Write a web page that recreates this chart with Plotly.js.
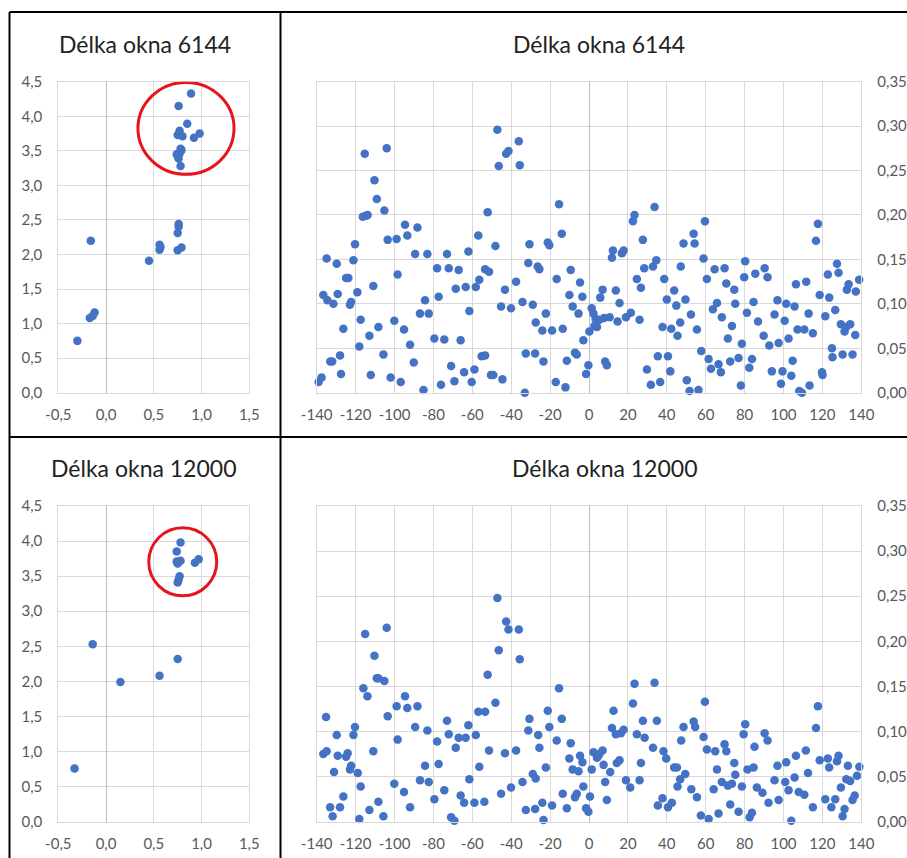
<!DOCTYPE html>
<html>
<head>
<meta charset="utf-8">
<script src="https://cdn.plot.ly/plotly-3.0.1.min.js"></script>
<style>html,body{margin:0;padding:0;background:#fff;}#chart{width:907px;height:858px;}</style>
</head>
<body>
<div id="chart"></div>
<script>
// ---- data ----
var titleTop = "Délka okna 6144";
var titleBottom = "Délka okna 12000";

var tlX = [-0.30,-0.16,-0.17,-0.12,-0.14,0.45,0.56,0.56,0.57,0.75,0.79,0.75,0.76,0.76,0.78,0.76,0.74,0.79,0.77,0.75,0.77,0.80,0.85,0.76,0.89,0.92,0.98,0.75,0.78];
var tlY = [0.75,2.20,1.08,1.16,1.11,1.91,2.14,2.07,2.11,2.06,2.10,2.31,2.44,2.40,3.28,3.39,3.45,3.51,3.46,3.73,3.79,3.71,3.89,4.15,4.33,3.69,3.75,3.42,3.53];

var blX = [-0.33,-0.14,0.15,0.56,0.75,0.78,0.74,0.74,0.78,0.75,0.77,0.76,0.75,0.93,0.97];
var blY = [0.76,2.53,1.99,2.08,2.32,3.98,3.85,3.71,3.72,3.68,3.50,3.45,3.41,3.69,3.74];

var trX = [-139,-137.5,-134.9,-136.6,-134.5,-131.4,-129.7,-129.2,-133,-132,-128,-127.5,-126.3,-124.9,-123.7,-122.9,-122.3,-121.1,-120.3,-119.1,-118.1,-117.4,-116.3,-114.8,-113.8,-115.3,-112.9,-112.2,-110.9,-110.3,-109.1,-108.3,-105.7,-105.2,-104,-103.5,-98.9,-102,-100.1,-98.4,-96.8,-95.1,-94.6,-93.4,-92,-90.1,-89.4,-88.2,-86.9,-85.1,-84.3,-83.1,-82.4,-79.5,-78.1,-77.3,-76.1,-74.4,-73,-72.1,-70.9,-69.2,-68.5,-67,-66,-64.2,-63.4,-62,-61.5,-60.3,-58.9,-58.2,-56.9,-56.4,-55.2,-53.4,-53.4,-51.4,-52.1,-50.4,-49.2,-48.1,-47.1,-46.4,-45.2,-44.5,-43.2,-42.6,-41.4,-40.1,-37.5,-36.1,-35.6,-34.2,-33,-32.5,-31.2,-30.6,-28.9,-27.7,-27.4,-26.4,-25.5,-24,-23.4,-22.2,-21.2,-20.4,-19,-17.1,-16.6,-15.4,-14,-13.5,-12.1,-11.4,-10.1,-9.4,-8.4,-7.2,-6.3,-5.4,-4.6,-3.4,-2.9,-1.5,-0.3,0.2,1.4,2.3,2.8,3.4,4.1,5.8,7,5.4,7.8,10.6,8.3,9.2,11.8,12.3,13.8,14.7,15.7,16.9,17.8,19,21.5,22.6,23.4,24.6,26,26.7,27.7,28.4,29.8,31.8,32.9,33.7,34.6,35.4,36.6,37.8,38.7,40,40.6,41.8,42.3,43.8,44.9,45.5,46.9,47.2,48.6,49.6,50.3,51.7,52.4,53.8,54.3,55.5,56.3,57.7,58.9,59.6,60.6,61.5,62.7,63.7,64.6,65.8,66.6,67.8,68.3,69.7,70.6,71.4,72.6,73.5,74.7,75.2,76.9,78.1,78.6,79.8,80.3,81.2,82.4,83.8,84.6,85.5,86.9,89.8,90.3,91.8,92.7,94,95.4,96.9,97.5,98.7,99.5,100.6,101.4,102.6,104,104.7,105.7,106.4,107.2,108.1,109.5,110.7,111.7,112.9,113.4,115.1,116.7,117.7,118.6,119.8,120.1,121.5,122.8,123.5,124.9,125.2,126.6,127.5,128.3,129.5,130.4,131.4,132.3,132.6,133.5,134.3,135.5,136.9,137.2,138.9];
var trY = [0.012,0.017,0.151,0.110,0.104,0.100,0.145,0.111,0.035,0.035,0.042,0.021,0.072,0.129,0.129,0.099,0.102,0.149,0.167,0.113,0.052,0.082,0.198,0.199,0.200,0.269,0.064,0.020,0.120,0.239,0.218,0.074,0.043,0.205,0.275,0.172,0.173,0.017,0.081,0.133,0.012,0.071,0.189,0.177,0.054,0.034,0.156,0.186,0.089,0.003,0.104,0.156,0.089,0.061,0.140,0.108,0.009,0.060,0.156,0.140,0.030,0.013,0.117,0.138,0.059,0.023,0.119,0.159,0.092,0.012,0.026,0.119,0.177,0.127,0.041,0.042,0.139,0.136,0.203,0.020,0.020,0.165,0.296,0.255,0.097,0.015,0.116,0.269,0.272,0.095,0.125,0.283,0.256,0.102,0.000,0.044,0.146,0.167,0.099,0.044,0.079,0.142,0.139,0.070,0.035,0.089,0.169,0.166,0.070,0.012,0.128,0.212,0.179,0.072,0.006,0.036,0.110,0.138,0.097,0.045,0.043,0.089,0.124,0.108,0.059,0.021,0.031,0.069,0.095,0.089,0.075,0.083,0.074,0.107,0.116,0.082,0.084,0.085,0.035,0.031,0.152,0.160,0.115,0.080,0.101,0.157,0.160,0.085,0.090,0.193,0.200,0.128,0.082,0.118,0.172,0.140,0.026,0.009,0.142,0.209,0.149,0.041,0.012,0.074,0.128,0.105,0.041,0.024,0.072,0.115,0.098,0.064,0.079,0.142,0.168,0.105,0.014,0.002,0.088,0.179,0.168,0.071,0.003,0.047,0.151,0.193,0.128,0.038,0.027,0.094,0.139,0.101,0.032,0.023,0.085,0.140,0.123,0.061,0.035,0.075,0.116,0.100,0.039,0.008,0.055,0.130,0.148,0.090,0.028,0.038,0.102,0.134,0.080,0.064,0.140,0.130,0.053,0.024,0.088,0.104,0.056,0.010,0.024,0.081,0.100,0.061,0.019,0.036,0.097,0.122,0.071,0.002,0.000,0.071,0.125,0.089,0.008,0.067,0.171,0.190,0.110,0.023,0.020,0.086,0.133,0.107,0.050,0.040,0.093,0.145,0.135,0.077,0.043,0.069,0.074,0.116,0.122,0.077,0.043,0.065,0.114,0.127];

var brX = [-136.6,-134.9,-135.2,-133.1,-131.8,-131.1,-129.7,-129.2,-128,-126.3,-124.9,-124.1,-122.9,-122.3,-121.1,-120.3,-118.9,-118.1,-117.4,-116,-115.1,-113.9,-112.9,-110.9,-110.3,-109.1,-108.3,-108.3,-105.7,-105.2,-104,-103.5,-100.1,-98.9,-98.4,-95.1,-94.6,-93.4,-92,-89.4,-88.2,-86.9,-84.3,-83.1,-82.4,-79.5,-78.1,-77.3,-74.4,-73,-72.1,-70.9,-69.2,-68.5,-67,-63.4,-66,-64.2,-62,-61.5,-58.9,-58.2,-56.9,-53.4,-56.4,-53.8,-52.1,-51.4,-48.1,-47.1,-46.4,-45.2,-43.2,-42.6,-41.4,-40.1,-37.5,-36.1,-35.6,-34.2,-32.5,-27.7,-31.2,-30.6,-28.9,-27.4,-26.1,-25.5,-24,-23.4,-22.2,-21.2,-20.4,-19,-16.6,-15.4,-14,-13.5,-11.4,-10.1,-9.4,-8.4,-7.2,-6.3,-5.4,-4.6,-3.4,-2.9,-1.5,-0.3,0.5,1.4,2.3,4.1,4.8,5.3,7,7.5,8.3,9.2,10.9,11.8,12.6,13.8,14.3,15.7,16.4,17.8,19,21.2,22.6,23.4,24.6,26,26.7,27.7,28.6,32.9,33.7,34.9,35.4,37.8,38.3,39.7,40.6,42.6,43.8,45.2,45.5,46.9,47.4,48.6,49.5,52.6,53.8,54.6,55.5,57.5,58.9,59.6,60.6,61.5,64.1,64.9,65.8,66.6,68.3,69.7,70.6,71.4,72.6,73.5,74.7,75.2,76.9,78.6,79.5,80.3,81.5,82.6,83.8,84.6,85.1,86.3,89.2,90.3,91.8,92.3,95.4,96.9,97.5,100.9,101.4,102.6,104,105.7,106.4,107.8,110.7,111.5,112.6,115.1,116.7,117.7,118.6,121.5,122.8,123.5,124.6,126.6,127.5,128.3,129.5,130.4,131.4,132.3,133.1,134.3,135.5,136.6,137.8,139];
var brY = [0.075,0.078,0.116,0.016,0.006,0.055,0.096,0.073,0.016,0.028,0.072,0.076,0.058,0.062,0.096,0.105,0.054,0.003,0.039,0.148,0.208,0.139,0.013,0.078,0.184,0.159,0.159,0.022,0.006,0.156,0.215,0.117,0.042,0.128,0.091,0.033,0.139,0.126,0.016,0.105,0.128,0.046,0.062,0.101,0.044,0.025,0.089,0.064,0.035,0.112,0.097,0.005,0.001,0.082,0.093,0.093,0.029,0.021,0.107,0.047,0.021,0.096,0.122,0.122,0.061,0.022,0.163,0.079,0.132,0.248,0.190,0.031,0.076,0.222,0.213,0.038,0.079,0.213,0.180,0.044,0.013,0.014,0.101,0.114,0.053,0.048,0.096,0.082,0.021,0.002,0.060,0.123,0.105,0.018,0.090,0.148,0.114,0.031,0.015,0.070,0.087,0.058,0.027,0.031,0.056,0.073,0.066,0.039,0.015,0.011,0.028,0.058,0.077,0.071,0.073,0.075,0.079,0.063,0.044,0.024,0.055,0.104,0.123,0.097,0.065,0.068,0.098,0.102,0.046,0.038,0.131,0.153,0.097,0.046,0.065,0.112,0.093,0.082,0.154,0.112,0.018,0.026,0.078,0.070,0.016,0.021,0.060,0.060,0.039,0.047,0.090,0.105,0.053,0.036,0.111,0.105,0.027,0.007,0.094,0.133,0.080,0.003,0.036,0.078,0.058,0.009,0.044,0.086,0.078,0.040,0.019,0.042,0.065,0.052,0.011,0.039,0.097,0.108,0.058,0.005,0.010,0.060,0.083,0.038,0.032,0.098,0.090,0.021,0.046,0.062,0.024,0.044,0.066,0.035,0.001,0.049,0.073,0.033,0.030,0.079,0.054,0.016,0.104,0.128,0.068,0.025,0.070,0.060,0.016,0.025,0.067,0.073,0.038,0.006,0.014,0.047,0.062,0.045,0.024,0.029,0.051,0.061];

// tick labels
var smallXVals = [-0.5,0,0.5,1,1.5];
var smallXText = ["-0,5","0,0","0,5","1,0","1,5"];
var smallYVals = [0,0.5,1,1.5,2,2.5,3,3.5,4,4.5];
var smallYText = ["0,0","0,5","1,0","1,5","2,0","2,5","3,0","3,5","4,0","4,5"];
var wideXVals = [-140,-120,-100,-80,-60,-40,-20,0,20,40,60,80,100,120,140];
var wideXText = ["-140","-120","-100","-80","-60","-40","-20","0","20","40","60","80","100","120","140"];
var wideYVals = [0,0.05,0.1,0.15,0.2,0.25,0.3,0.35];
var wideYText = ["0,00","0,05","0,10","0,15","0,20","0,25","0,30","0,35"];

// ---- layout helpers ----
var W = 907, H = 858;
function fx(px){ return px / W; }
function fy(py){ return 1 - py / H; }
var FONT = "Lato, 'Open Sans', sans-serif";
var dotColor = "#4472C4";
var tickFont = {family: FONT, size: 15, color: "#595959"};

function axisBase(extra){
  var a = {showgrid: true, gridcolor: "#d9d9d9", gridwidth: 1, zeroline: true,
    zerolinecolor: "#bfbfbf", zerolinewidth: 1, showline: true, mirror: true,
    linecolor: "#d9d9d9", linewidth: 1, ticks: "",
    tickfont: tickFont, fixedrange: true, tickmode: "array"};
  for (var k in extra) a[k] = extra[k];
  return a;
}

var marker = {color: dotColor, size: 8.5};
var traces = [
  {x: tlX, y: tlY, xaxis: "x", yaxis: "y", type: "scatter", mode: "markers", marker: marker, cliponaxis: false, hoverinfo: "skip"},
  {x: trX, y: trY, xaxis: "x2", yaxis: "y2", type: "scatter", mode: "markers", marker: marker, cliponaxis: false, hoverinfo: "skip"},
  {x: blX, y: blY, xaxis: "x3", yaxis: "y3", type: "scatter", mode: "markers", marker: marker, cliponaxis: false, hoverinfo: "skip"},
  {x: brX, y: brY, xaxis: "x4", yaxis: "y4", type: "scatter", mode: "markers", marker: marker, cliponaxis: false, hoverinfo: "skip"}
];

var leftDom = [fx(58.3), fx(249.3)];
var rightDom = [fx(316.7), fx(861.3)];
var topDom = [fy(392.7), fy(81.7)];
var botDom = [fy(821.7), fy(506)];

var layout = {
  width: W, height: H,
  margin: {l: 0, r: 0, t: 0, b: 0},
  paper_bgcolor: "#ffffff", plot_bgcolor: "#ffffff",
  showlegend: false,
  font: {family: FONT},
  xaxis: axisBase({domain: leftDom, range: [-0.5, 1.5], tickvals: smallXVals, ticktext: smallXText, anchor: "y", ticklabelstandoff: 8}),
  yaxis: axisBase({domain: topDom, range: [0, 4.5], tickvals: smallYVals, ticktext: smallYText, anchor: "x", ticklabelstandoff: 12}),
  xaxis2: axisBase({domain: rightDom, range: [-140, 140], tickvals: wideXVals, ticktext: wideXText, anchor: "y2", ticklabelstandoff: 8}),
  yaxis2: axisBase({domain: topDom, range: [0, 0.35], tickvals: wideYVals, ticktext: wideYText, anchor: "x2", side: "right", ticklabelstandoff: 12}),
  xaxis3: axisBase({domain: leftDom, range: [-0.5, 1.5], tickvals: smallXVals, ticktext: smallXText, anchor: "y3", ticklabelstandoff: 8}),
  yaxis3: axisBase({domain: botDom, range: [0, 4.5], tickvals: smallYVals, ticktext: smallYText, anchor: "x3", ticklabelstandoff: 12}),
  xaxis4: axisBase({domain: rightDom, range: [-140, 140], tickvals: wideXVals, ticktext: wideXText, anchor: "y4", ticklabelstandoff: 8}),
  yaxis4: axisBase({domain: botDom, range: [0, 0.35], tickvals: wideYVals, ticktext: wideYText, anchor: "x4", side: "right", ticklabelstandoff: 12}),
  annotations: [
    {text: titleTop, xref: "paper", yref: "paper", x: fx(145), y: fy(44), xanchor: "center", yanchor: "middle", showarrow: false, font: {family: FONT, size: 23, color: "#222222"}},
    {text: titleTop, xref: "paper", yref: "paper", x: fx(599), y: fy(44), xanchor: "center", yanchor: "middle", showarrow: false, font: {family: FONT, size: 23, color: "#222222"}},
    {text: titleBottom, xref: "paper", yref: "paper", x: fx(143), y: fy(468), xanchor: "center", yanchor: "middle", showarrow: false, font: {family: FONT, size: 23, color: "#222222"}},
    {text: titleBottom, xref: "paper", yref: "paper", x: fx(604), y: fy(468), xanchor: "center", yanchor: "middle", showarrow: false, font: {family: FONT, size: 23, color: "#222222"}}
  ],
  shapes: [
    // frame lines
    {type: "line", xref: "paper", yref: "paper", x0: fx(9.5), x1: 1, y0: fy(12), y1: fy(12), line: {color: "#000", width: 2}},
    {type: "line", xref: "paper", yref: "paper", x0: fx(9.5), x1: fx(9.5), y0: fy(12), y1: 0, line: {color: "#000", width: 2}},
    {type: "line", xref: "paper", yref: "paper", x0: fx(280.5), x1: fx(280.5), y0: fy(12), y1: 0, line: {color: "#000", width: 2}},
    {type: "line", xref: "paper", yref: "paper", x0: fx(9.5), x1: 1, y0: fy(437), y1: fy(437), line: {color: "#000", width: 2}},
    // red highlight circles
    {type: "circle", xref: "x", yref: "y", x0: 0.334, x1: 1.34, y0: 3.16, y1: 4.49, line: {color: "#e8141c", width: 3}},
    {type: "circle", xref: "x3", yref: "y3", x0: 0.447, x1: 1.159, y0: 3.22, y1: 4.19, line: {color: "#e8141c", width: 3}}
  ]
};

Plotly.newPlot("chart", traces, layout, {staticPlot: true, displayModeBar: false});
</script>
</body>
</html>
